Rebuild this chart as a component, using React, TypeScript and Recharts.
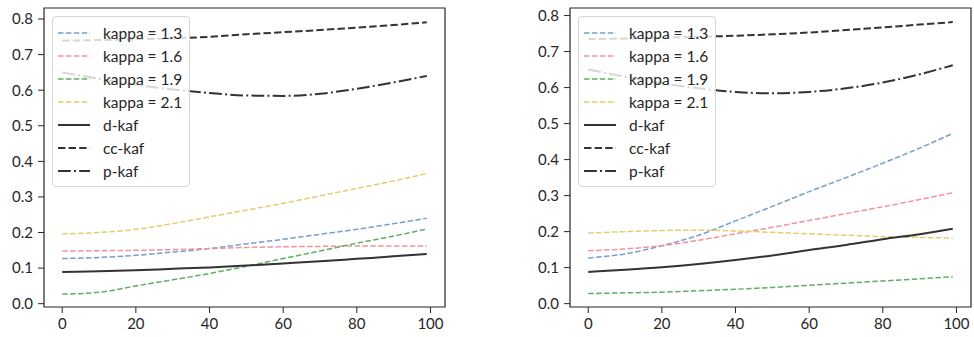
import { LineChart, Line, XAxis, YAxis, Legend, ReferenceArea } from 'recharts';

const xs = [0, 10, 20, 30, 40, 50, 60, 70, 80, 90, 99];

// left panel
const leftK13 = [0.127, 0.130, 0.136, 0.145, 0.155, 0.168, 0.181, 0.195, 0.209, 0.225, 0.240];
const leftK16 = [0.148, 0.149, 0.150, 0.152, 0.155, 0.158, 0.160, 0.161, 0.162, 0.162, 0.162];
const leftK19 = [0.027, 0.032, 0.050, 0.067, 0.085, 0.105, 0.127, 0.148, 0.170, 0.190, 0.210];
const leftK21 = [0.196, 0.200, 0.209, 0.225, 0.244, 0.263, 0.282, 0.303, 0.324, 0.345, 0.366];
const leftD = [0.089, 0.091, 0.094, 0.098, 0.102, 0.107, 0.113, 0.119, 0.126, 0.133, 0.140];
const leftCC = [0.739, 0.741, 0.743, 0.746, 0.750, 0.757, 0.763, 0.769, 0.776, 0.783, 0.791];
const leftP = [0.650, 0.632, 0.615, 0.602, 0.592, 0.585, 0.584, 0.590, 0.604, 0.622, 0.640];

// right panel
const rightK13 = [0.127, 0.138, 0.161, 0.190, 0.230, 0.270, 0.311, 0.350, 0.390, 0.432, 0.473];
const rightK16 = [0.147, 0.152, 0.161, 0.176, 0.194, 0.212, 0.231, 0.250, 0.269, 0.289, 0.308];
const rightK19 = [0.028, 0.030, 0.032, 0.036, 0.040, 0.045, 0.051, 0.057, 0.063, 0.069, 0.075];
const rightK21 = [0.196, 0.200, 0.203, 0.204, 0.202, 0.198, 0.194, 0.190, 0.186, 0.184, 0.182];
const rightD = [0.088, 0.094, 0.101, 0.110, 0.121, 0.134, 0.149, 0.163, 0.179, 0.193, 0.208];
const rightCC = [0.735, 0.736, 0.738, 0.741, 0.744, 0.748, 0.753, 0.760, 0.767, 0.775, 0.782];
const rightP = [0.650, 0.630, 0.612, 0.598, 0.588, 0.584, 0.588, 0.598, 0.614, 0.637, 0.662];

const xTicks = [0, 20, 40, 60, 80, 100];
const yTicks = [0, 0.1, 0.2, 0.3, 0.4, 0.5, 0.6, 0.7, 0.8];

const series = [
  { key: 'k13', name: 'kappa = 1.3', color: '#779ecb', width: 1.5, dash: '5.5 2.4' },
  { key: 'k16', name: 'kappa = 1.6', color: '#f5909b', width: 1.5, dash: '5.5 2.4' },
  { key: 'k19', name: 'kappa = 1.9', color: '#5fae64', width: 1.5, dash: '5.5 2.4' },
  { key: 'k21', name: 'kappa = 2.1', color: '#e4cd6e', width: 1.5, dash: '5.5 2.4' },
  { key: 'd', name: 'd-kaf', color: '#333333', width: 2, dash: undefined },
  { key: 'cc', name: 'cc-kaf', color: '#333333', width: 2, dash: '7.4 3.2' },
  { key: 'p', name: 'p-kaf', color: '#333333', width: 2, dash: '12.8 3.2 2 3.2' },
];

const build = (k13: number[], k16: number[], k19: number[], k21: number[], d: number[], cc: number[], p: number[]) =>
  xs.map((x, i) => ({ x, k13: k13[i], k16: k16[i], k19: k19[i], k21: k21[i], d: d[i], cc: cc[i], p: p[i] }));

const leftData = build(leftK13, leftK16, leftK19, leftK21, leftD, leftCC, leftP);
const rightData = build(rightK13, rightK16, rightK19, rightK21, rightD, rightCC, rightP);

const font = 'Lato, "DejaVu Sans", sans-serif';

const LegendBox = () => (
  <div
    style={{
      background: 'rgba(255,255,255,0.8)',
      border: '1px solid #d6d6d6',
      borderRadius: 4,
      padding: '4px 6px 4px 5px',
      width: 125,
      fontFamily: font,
      fontSize: 15.5,
      color: '#262626',
    }}
  >
    {series.map((s) => (
      <div key={s.key} style={{ height: 23, display: 'flex', alignItems: 'center' }}>
        <svg width={32} height={10} style={{ marginRight: 13 }}>
          <line x1={0} y1={5} x2={32} y2={5} stroke={s.color} strokeWidth={s.width} strokeDasharray={s.dash} />
        </svg>
        <span>{s.name}</span>
      </div>
    ))}
  </div>
);

type PanelProps = {
  data: typeof leftData;
  width: number;
  left: number;
  yAxisWidth: number;
  yMax: number;
};

const Panel = ({ data, width, left, yAxisWidth, yMax }: PanelProps) => (
  <div style={{ position: 'absolute', left, top: 0 }}>
    <LineChart width={width} height={337} data={data} margin={{ top: 8, right: 3, bottom: 0, left: 0 }}>
      <XAxis
        dataKey="x"
        type="number"
        domain={[-4.95, 103.95]}
        ticks={xTicks}
        allowDataOverflow
        height={30}
        tickSize={6}
        tickMargin={5}
        stroke="#262626"
        axisLine={false}
        tick={{ fill: '#262626', fontSize: 15, fontFamily: font }}
      />
      <YAxis
        type="number"
        domain={[-0.0093, yMax]}
        ticks={yTicks}
        allowDataOverflow
        width={yAxisWidth}
        tickSize={6}
        tickMargin={5}
        stroke="#262626"
        axisLine={false}
        tickFormatter={(v: number) => v.toFixed(1)}
        tick={{ fill: '#262626', fontSize: 15, fontFamily: font }}
      />
      <ReferenceArea x1={-4.95} x2={103.95} y1={-0.0093} y2={yMax} fill="none" stroke="#262626" strokeWidth={1.2} ifOverflow="visible" />
      {series.map((s) => (
        <Line
          key={s.key}
          type="monotone"
          dataKey={s.key}
          name={s.name}
          stroke={s.color}
          strokeWidth={s.width}
          strokeDasharray={s.dash}
          dot={false}
          isAnimationActive={false}
        />
      ))}
      <Legend
        layout="vertical"
        align="center"
        verticalAlign="middle"
        content={() => <LegendBox />}
        wrapperStyle={{ top: 16, left: yAxisWidth + 8, width: 'auto' }}
      />
    </LineChart>
  </div>
);

export default function App() {
  return (
    <div style={{ position: 'absolute', left: 0, top: 0, width: 974, height: 337, background: '#fff' }}>
      <Panel data={leftData} width={448} left={0} yAxisWidth={44} yMax={0.831} />
      <Panel data={rightData} width={974 - 487} left={487} yAxisWidth={83} yMax={0.821} />
    </div>
  );
}
